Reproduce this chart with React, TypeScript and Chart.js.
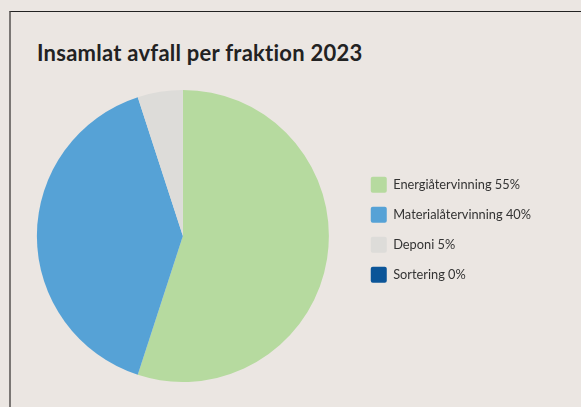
import React, { useEffect, useRef } from "react";
import { Chart, registerables } from "chart.js";

Chart.register(...registerables);

const title = "Insamlat avfall per fraktion 2023";
const categories = ["Energiåtervinning", "Materialåtervinning", "Deponi", "Sortering"];
const values = [55, 40, 5, 0];
const colors = ["#b6da9f", "#56a2d6", "#dddcd9", "#0b5598"];

export default function App() {
  const ref = useRef<HTMLCanvasElement | null>(null);

  useEffect(() => {
    if (!ref.current) return;
    const chart = new Chart(ref.current, {
      type: "pie",
      data: {
        labels: categories.map((c, i) => `${c} ${values[i]}%`),
        datasets: [
          {
            data: values,
            backgroundColor: colors,
            borderWidth: 0,
          },
        ],
      },
      options: {
        animation: false,
        responsive: true,
        maintainAspectRatio: false,
        layout: { padding: 0 },
        plugins: {
          tooltip: { enabled: false },
          legend: {
            position: "right",
            align: "start",
            title: {
              display: true,
              text: " ",
              font: { size: 10, lineHeight: 1 },
              padding: { top: 62.7, bottom: 0 },
            },
            labels: {
              boxWidth: 16,
              boxHeight: 16,
              padding: 14,
              color: "#333333",
              font: { family: "Lato", size: 12.8 },
              useBorderRadius: true,
              borderRadius: 2,
            },
          },
        },
      },
    });
    return () => chart.destroy();
  }, []);

  return (
    <div
      style={{
        position: "absolute",
        left: 0,
        top: 0,
        width: 581,
        height: 407,
        background: "#ebe6e2",
        overflow: "hidden",
        fontFamily: "Lato, sans-serif",
      }}
    >
      <div
        style={{
          position: "absolute",
          left: 9,
          top: 11,
          width: 600,
          height: 420,
          borderTop: "1px solid #222222",
          borderLeft: "2px solid #7a7674",
        }}
      />
      <div
        style={{
          position: "absolute",
          left: 37,
          top: 40,
          fontSize: 22,
          fontWeight: 700,
          letterSpacing: 0.25,
          color: "#222222",
          lineHeight: "26px",
          whiteSpace: "nowrap",
        }}
      >
        {title}
      </div>
      <div style={{ position: "absolute", left: 9, top: 90, width: 532, height: 292 }}>
        <canvas ref={ref} />
      </div>
    </div>
  );
}
